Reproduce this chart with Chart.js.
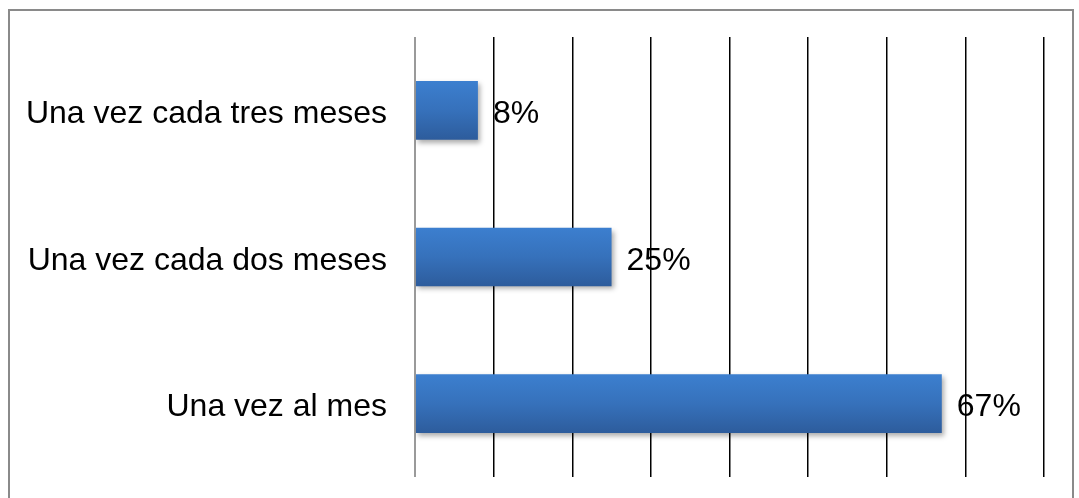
<!DOCTYPE html>
<html>
<head>
<meta charset="utf-8">
<script src="https://cdn.jsdelivr.net/npm/chart.js@4/dist/chart.umd.min.js"></script>
<style>
  html, body { margin: 0; padding: 0; background: #fff; }
  #wrap { position: relative; width: 1079px; height: 498px; }
</style>
</head>
<body>
<div id="wrap"><canvas id="chart"></canvas></div>
<script>
const categories = ["Una vez cada tres meses", "Una vez cada dos meses", "Una vez al mes"];
const percents = [8, 25, 67];
const axisMax = 80;
const axisStep = 10;

// outer frame (no bottom edge, it runs off the picture)
const framePlugin = {
  id: "frame",
  beforeDraw(chart) {
    const ctx = chart.ctx;
    ctx.save();
    ctx.fillStyle = "#fff";
    ctx.fillRect(0, 0, chart.width, chart.height);
    ctx.strokeStyle = "#8a8a8a";
    ctx.lineWidth = 2;
    ctx.beginPath();
    ctx.moveTo(9, chart.height + 2);
    ctx.lineTo(9, 10);
    ctx.lineTo(1073, 10);
    ctx.lineTo(1073, chart.height + 2);
    ctx.stroke();
    ctx.restore();
  }
};

// gradient fill + drop shadow on the bars, then the % labels
const barStyle = {
  id: "barStyle",
  beforeDatasetsDraw(chart) {
    const ctx = chart.ctx;
    chart.getDatasetMeta(0).data.forEach(bar => {
      const top = bar.y - bar.height / 2;
      const g = ctx.createLinearGradient(0, top, 0, top + bar.height);
      g.addColorStop(0, "#3c7fcf");
      g.addColorStop(0.5, "#3671bb");
      g.addColorStop(1, "#2d5c9c");
      bar.options.backgroundColor = g;
    });
    ctx.save();
    ctx.shadowColor = "rgba(0,0,0,0.33)";
    ctx.shadowBlur = 5;
    ctx.shadowOffsetX = 2;
    ctx.shadowOffsetY = 3;
  },
  afterDatasetsDraw(chart) {
    const ctx = chart.ctx;
    ctx.restore();
    ctx.save();
    ctx.font = "32px 'Liberation Sans', Arial, sans-serif";
    ctx.fillStyle = "#000";
    ctx.textBaseline = "middle";
    ctx.textAlign = "left";
    chart.getDatasetMeta(0).data.forEach((bar, i) => {
      ctx.fillText(percents[i] + "%", bar.x + 15, bar.y + 4);
    });
    ctx.restore();
  }
};

new Chart(document.getElementById("chart"), {
  type: "bar",
  data: {
    labels: categories,
    datasets: [{
      data: percents,
      // scriptable so every bar gets its own options object
      backgroundColor: () => "#3671bb",
      borderWidth: 0,
      barPercentage: 0.4,
      categoryPercentage: 1
    }]
  },
  options: {
    indexAxis: "y",
    responsive: true,
    maintainAspectRatio: false,
    animation: false,
    layout: { padding: { left: 0, right: 35, top: 37, bottom: 21 } },
    plugins: { legend: { display: false }, tooltip: { enabled: false } },
    scales: {
      x: {
        min: 0,
        max: axisMax,
        ticks: { display: false, stepSize: axisStep },
        grid: {
          drawTicks: false,
          color: c => c.index === 0 ? "#9a9a9a" : "#000",
          lineWidth: c => c.index === 0 ? 2 : 1.5
        },
        border: { display: false },
        afterFit: s => { s.height = 0; }
      },
      y: {
        ticks: {
          color: "#000",
          padding: 28,
          labelOffset: 4,
          font: { family: "'Liberation Sans', Arial, sans-serif", size: 32 }
        },
        grid: { display: false, drawTicks: false },
        border: { display: false },
        afterFit: s => {
          s.width = 415;
          s.paddingTop = 0;
          s.paddingBottom = 0;
        }
      }
    }
  },
  plugins: [framePlugin, barStyle]
});
</script>
</body>
</html>
